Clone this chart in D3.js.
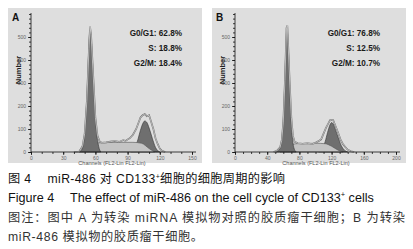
<!DOCTYPE html>
<html>
<head>
<meta charset="utf-8">
<script src="https://cdn.jsdelivr.net/npm/d3@7"></script>
<style>
  body { margin: 0; background: #fff; }
  svg { display: block; }
</style>
</head>
<body>
<svg width="413" height="249"></svg>
<script>
// cell cycle histograms (ModFit style), panel A = control, panel B = miR-486

var svg = d3.select("svg");

// phase labels and percentages
var phaseNames = ["G0/G1:", "S:", "G2/M:"];
var phaseA = ["62.8%", "18.8%", "18.4%"];
var phaseB = ["76.8%", "12.5%", "10.7%"];

// tick labels
var yTicks = [0, 100, 200, 300, 400, 500];
var xTicksA = [0, 30, 60, 90, 120, 150];
var xTicksB = [0, 40, 80, 120, 160, 200];

// panel A: fitted G1 peak
var g1ChA = [45, 47, 49, 51, 53, 54, 55, 56, 57, 59, 61, 63, 65];
var g1CntA = [0, 8, 40, 140, 340, 470, 530, 500, 420, 230, 90, 25, 0];
// panel A: S phase
var sChA = [46, 50, 56, 64, 80, 95, 103, 110, 115];
var sCntA = [0, 12, 30, 40, 42, 42, 38, 15, 0];
// panel A: G2 peak
var g2ChA = [93, 96, 99, 102, 104, 106, 108, 110, 113, 116, 120];
var g2CntA = [0, 15, 45, 95, 122, 135, 128, 105, 60, 20, 0];
// panel A: raw counts (outline)
var rawChA = [40, 45, 48, 50, 52, 54, 55, 56, 58, 60, 62, 64, 66, 70, 74, 78, 82, 86, 88, 92, 95, 98, 100, 102, 104, 106, 108, 110, 112, 114, 116, 118, 120, 122, 125];
var rawCntA = [0, 2, 25, 80, 220, 450, 545, 510, 330, 150, 70, 45, 40, 42, 45, 48, 44, 52, 48, 60, 75, 100, 125, 150, 160, 165, 155, 160, 130, 100, 60, 35, 15, 5, 0];

// panel B: fitted G1 peak
var g1ChB = [51, 55, 58, 60, 62, 63, 64.5, 66, 67, 69, 71, 73, 76];
var g1CntB = [0, 12, 55, 140, 320, 430, 540, 470, 380, 190, 75, 20, 0];
// panel B: S phase
var sChB = [56, 62, 70, 80, 100, 112, 120, 128, 134];
var sCntB = [0, 15, 32, 37, 38, 36, 25, 8, 0];
// panel B: G2 peak
var g2ChB = [104, 108, 112, 115, 118, 120, 122, 125, 128, 132, 136, 140];
var g2CntB = [0, 12, 45, 85, 118, 128, 122, 95, 65, 28, 8, 0];
// panel B: raw counts (outline)
var rawChB = [48, 52, 56, 58, 60, 62, 64, 65, 66, 68, 70, 72, 74, 78, 84, 90, 96, 100, 104, 107, 110, 113, 116, 118, 120, 122, 125, 128, 131, 134, 137, 140, 144, 148];
var rawCntB = [0, 5, 20, 50, 130, 310, 540, 550, 470, 300, 150, 70, 45, 38, 36, 38, 35, 40, 48, 55, 80, 105, 125, 138, 140, 138, 112, 85, 55, 35, 22, 10, 3, 0];

var FONT = "'Liberation Sans', Arial, sans-serif";
var CJK = "'Liberation Sans', 'Noto Sans CJK SC', sans-serif";

function pairs(ch, cnt) {
    return ch.map(function(c, i) { return [c, cnt[i]]; });
}

function drawPanel(p) {
    var g = svg.append("g").attr("transform", "translate(" + p.dx + ",0)");

    // grey background box
    g.append("rect")
        .attr("x", 8).attr("y", 8)
        .attr("width", 194).attr("height", 155)
        .attr("fill", "#dedede");

    var x = d3.scaleLinear().domain([0, p.xMax]).range([31, 192]);
    var y = d3.scaleLinear().domain([0, 600]).range([152, 14]);

    var area = d3.area()
        .x(function(d) { return x(d[0]); })
        .y0(y(0))
        .y1(function(d) { return y(d[1]); })
        .curve(d3.curveMonotoneX);

    var line = d3.line()
        .x(function(d) { return x(d[0]); })
        .y(function(d) { return y(d[1]); })
        .curve(d3.curveLinear);

    // G2 first, S over it, G1 on top
    g.append("path").datum(pairs(p.g2Ch, p.g2Cnt))
        .attr("d", area).attr("fill", "#6f6f6f").attr("stroke", "#333").attr("stroke-width", 0.6);
    g.append("path").datum(pairs(p.sCh, p.sCnt))
        .attr("d", area).attr("fill", "#c4c4c4").attr("stroke", "#555").attr("stroke-width", 0.6);
    g.append("path").datum(pairs(p.g1Ch, p.g1Cnt))
        .attr("d", area).attr("fill", "#6f6f6f").attr("stroke", "#333").attr("stroke-width", 0.6);

    // raw data outline, hollow looking
    g.append("path").datum(pairs(p.rawCh, p.rawCnt))
        .attr("d", line).attr("fill", "none").attr("stroke", "#666").attr("stroke-width", 1.6);
    g.append("path").datum(pairs(p.rawCh, p.rawCnt))
        .attr("d", line).attr("fill", "none").attr("stroke", "#f4f4f4").attr("stroke-width", 0.6);

    // y axis, minor ticks then major ticks with labels
    var yMinor = d3.range(0, 601, 20);
    g.append("g").attr("transform", "translate(31,0)")
        .call(d3.axisLeft(y).tickValues(yMinor).tickSize(2).tickSizeOuter(0).tickFormat(""))
        .call(function(a) { a.select(".domain").remove(); });
    var yAx = g.append("g").attr("transform", "translate(31,0)")
        .call(d3.axisLeft(y).tickValues(yTicks).tickSize(3).tickSizeOuter(0).tickPadding(2));
    yAx.select(".domain").attr("d", "M0," + y(0) + "V13");

    // x axis
    var xMinor = d3.range(0, p.xMax + 1, 10);
    g.append("g").attr("transform", "translate(0,152)")
        .call(d3.axisBottom(x).tickValues(xMinor).tickSize(2).tickSizeOuter(0).tickFormat(""))
        .call(function(a) { a.select(".domain").remove(); });
    var xAx = g.append("g").attr("transform", "translate(0,152)")
        .call(d3.axisBottom(x).tickValues(p.xTicks).tickSize(3).tickSizeOuter(0).tickPadding(1));
    xAx.select(".domain").attr("d", "M31,0H196");

    g.selectAll(".tick text")
        .attr("font-size", 5).attr("font-family", FONT).attr("fill", "#666");
    g.selectAll(".domain, .tick line").attr("stroke", "#111").attr("stroke-width", 0.8);

    // axis titles
    g.append("text")
        .attr("transform", "translate(21,70) rotate(-90)")
        .attr("text-anchor", "middle")
        .attr("font-family", FONT).attr("font-weight", "bold").attr("font-size", 7.5)
        .attr("fill", "#222")
        .text("Number");
    g.append("text")
        .attr("x", 112).attr("y", 165)
        .attr("text-anchor", "middle")
        .attr("font-family", FONT).attr("font-size", 5.5).attr("fill", "#555")
        .text("Channels (FL2-Lin FL2-Lin)");

    // panel letter
    g.append("text")
        .attr("x", 12).attr("y", 21)
        .attr("font-family", FONT).attr("font-weight", "bold").attr("font-size", 10)
        .attr("fill", "#111")
        .text(p.letter);

    // phase percentages
    var rows = g.append("g");
    phaseNames.forEach(function(name, i) {
        rows.append("text")
            .attr("x", p.textX).attr("y", 36 + i * 15)
            .attr("text-anchor", "end")
            .attr("font-family", FONT).attr("font-weight", "bold").attr("font-size", 8.2)
            .attr("fill", "#1a1a1a")
            .text(name + " " + p.phase[i]);
    });
}

drawPanel({ dx: 0, letter: "A", xMax: 150, xTicks: xTicksA, phase: phaseA, textX: 182,
    g1Ch: g1ChA, g1Cnt: g1CntA, sCh: sChA, sCnt: sCntA, g2Ch: g2ChA, g2Cnt: g2CntA, rawCh: rawChA, rawCnt: rawCntA });
drawPanel({ dx: 204, letter: "B", xMax: 200, xTicks: xTicksB, phase: phaseB, textX: 176,
    g1Ch: g1ChB, g1Cnt: g1CntB, sCh: sChB, sCnt: sCntB, g2Ch: g2ChB, g2Cnt: g2CntB, rawCh: rawChB, rawCnt: rawCntB });

// caption
var cap = svg.append("g").attr("font-family", CJK);

var l1 = cap.append("text").attr("x", 8).attr("y", 183).attr("font-size", 12.2).attr("fill", "#111")
    .attr("textLength", 277).attr("lengthAdjust", "spacing");
l1.append("tspan").text("图 4\u2003 miR-486 对 CD133");
l1.append("tspan").attr("font-size", 7).attr("dy", -4).text("+");
l1.append("tspan").attr("dy", 4).text("细胞的细胞周期的影响");

var l2 = cap.append("text").attr("x", 8).attr("y", 202).attr("font-size", 12.6).attr("fill", "#111");
l2.append("tspan").text("Figure 4\u2003 The effect of miR-486 on the cell cycle of CD133");
l2.append("tspan").attr("font-size", 7.5).attr("dy", -5).text("+");
l2.append("tspan").attr("dy", 5).text(" cells");

cap.append("text").attr("x", 8).attr("y", 222).attr("font-size", 12.2).attr("fill", "#333")
    .attr("textLength", 397).attr("lengthAdjust", "spacing")
    .text("图注：图中 A 为转染 miRNA 模拟物对照的胶质瘤干细胞；B 为转染");
cap.append("text").attr("x", 8).attr("y", 241).attr("font-size", 12.2).attr("fill", "#333")
    .attr("textLength", 195).attr("lengthAdjust", "spacing")
    .text("miR-486 模拟物的胶质瘤干细胞。");
</script>
</body>
</html>
